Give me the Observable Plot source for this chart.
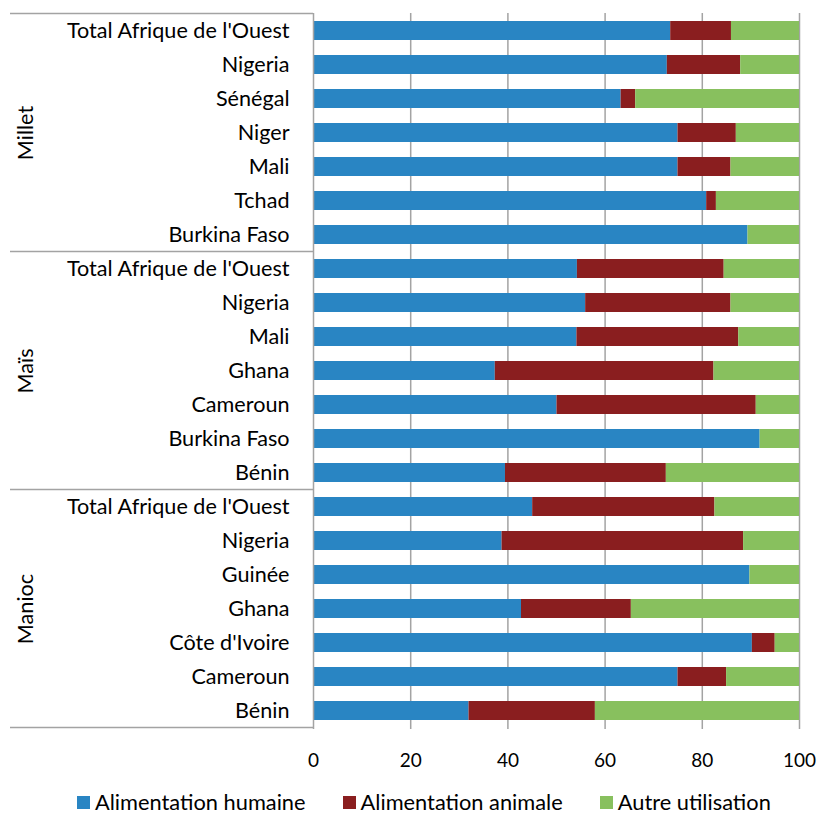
<!DOCTYPE html>
<html>
<head>
<meta charset="utf-8">
<script src="https://cdn.jsdelivr.net/npm/d3@7"></script>
<script src="https://cdn.jsdelivr.net/npm/@observablehq/plot@0.6"></script>
<style>
  body { margin: 0; background: #fff; font-family: Lato, sans-serif; }
  #chart { position: relative; width: 818px; height: 816px; overflow: hidden; }
  #legend { position: absolute; left: 77px; top: 792px; display: flex; gap: 37px;
            font-size: 21.8px; line-height: 20px; color: #000; white-space: nowrap; }
  .item { display: flex; align-items: baseline; }
  .sw { display: inline-block; width: 13px; height: 13px; margin-right: 5px; position: relative; top: -1px; }
</style>
</head>
<body>
<div id="chart"></div>
<script>
// Utilisation des cultures (%) par pays, Afrique de l'Ouest
const crops = ["Millet", "Maïs", "Manioc"];
const uses = ["Alimentation humaine", "Alimentation animale", "Autre utilisation"];
const useColors = ["#2985c3", "#8a1e1f", "#88c05e"];
const xTicks = [0, 20, 40, 60, 80, 100];

const milletCountries = ["Total Afrique de l'Ouest", "Nigeria", "Sénégal", "Niger", "Mali", "Tchad", "Burkina Faso"];
const milletHumaine = [73.5, 72.8, 63.3, 75.0, 75.0, 80.9, 89.4];
const milletAnimale = [12.5, 15.1, 3.0, 12.0, 10.9, 2.0, 0];
const milletAutre   = [14.0, 12.1, 33.7, 13.0, 14.1, 17.1, 10.6];

const maisCountries = ["Total Afrique de l'Ouest", "Nigeria", "Mali", "Ghana", "Cameroun", "Burkina Faso", "Bénin"];
const maisHumaine = [54.3, 56.0, 54.2, 37.4, 50.1, 91.9, 39.5];
const maisAnimale = [30.2, 29.9, 33.3, 45.0, 41.0, 0, 33.1];
const maisAutre   = [15.5, 14.1, 12.5, 17.6, 8.9, 8.1, 27.4];

const maniocCountries = ["Total Afrique de l'Ouest", "Nigeria", "Guinée", "Ghana", "Côte d'Ivoire", "Cameroun", "Bénin"];
const maniocHumaine = [45.1, 38.8, 89.8, 42.8, 90.3, 75.0, 32.0];
const maniocAnimale = [37.5, 49.7, 0, 22.6, 4.7, 10.0, 26.0];
const maniocAutre   = [17.4, 11.5, 10.2, 34.6, 5.0, 15.0, 42.0];

const groups = [
  {crop: crops[0], countries: milletCountries, series: [milletHumaine, milletAnimale, milletAutre]},
  {crop: crops[1], countries: maisCountries, series: [maisHumaine, maisAnimale, maisAutre]},
  {crop: crops[2], countries: maniocCountries, series: [maniocHumaine, maniocAnimale, maniocAutre]}
];

// one composite key per row so repeated country names stay distinct
const keyOf = (crop, country) => crop + "|" + country;
const yDomain = groups.flatMap(g => g.countries.map(c => keyOf(g.crop, c)));

const rows = [];
for (const g of groups) {
  g.countries.forEach((c, i) => {
    uses.forEach((u, j) => rows.push({key: keyOf(g.crop, c), use: u, value: g.series[j][i]}));
  });
}

const groupLabels = groups.map(g => ({
  crop: g.crop,
  mid: keyOf(g.crop, g.countries[Math.floor(g.countries.length / 2)])
}));

const gray = "#a3a3a3";

const plot = Plot.plot({
  width: 818,
  height: 790,
  marginLeft: 313,
  marginRight: 19,
  marginTop: 13,
  marginBottom: 61,
  style: {fontFamily: "Lato, sans-serif", fontSize: "20px", background: "white", overflow: "visible"},
  x: {domain: [0, 100]},
  y: {domain: yDomain, paddingInner: 0.434, paddingOuter: 0.217},
  color: {domain: uses, range: useColors},
  marks: [
    Plot.gridX(xTicks.slice(1), {stroke: gray, strokeOpacity: 1, strokeWidth: 1.5}),
    Plot.barX(rows, Plot.stackX({y: "key", x: "value", fill: "use", order: null})),
    Plot.ruleX([0], {stroke: gray, strokeWidth: 1.5}),
    Plot.axisX({ticks: xTicks, tickSize: 0, tickPadding: 24, fontSize: 19, label: null}),
    Plot.axisY({tickSize: 0, tickPadding: 24, fontSize: 21.6, label: null,
                tickFormat: k => k.split("|")[1]}),
    Plot.text(groupLabels, {y: "mid", text: "crop", frameAnchor: "left", dx: -287,
                            textAnchor: "middle", lineAnchor: "middle",
                            rotate: -90, fontSize: 21.6, fill: "black"})
  ]
});

// category separators in the left margin, placed from the y band scale
const ys = plot.scale("y");
const half = (ys.step - ys.bandwidth) / 2;
const lastKey = yDomain[yDomain.length - 1];
const boundaries = groups.map(g => ys.apply(keyOf(g.crop, g.countries[0])) - half)
  .concat([ys.apply(lastKey) + ys.bandwidth + half]);
d3.select(plot).append("g")
  .selectAll("line").data(boundaries).join("line")
  .attr("x1", 10).attr("x2", 313)
  .attr("y1", d => d).attr("y2", d => d)
  .attr("stroke", gray).attr("stroke-width", 1.5);

const chart = document.getElementById("chart");
chart.appendChild(plot);

// legend below the plot
const legend = d3.select(chart).append("div").attr("id", "legend");
const item = legend.selectAll("div").data(uses).join("div").attr("class", "item");
item.append("span").attr("class", "sw").style("background", (d, i) => useColors[i]);
item.append("span").text(d => d);
</script>
</body>
</html>
